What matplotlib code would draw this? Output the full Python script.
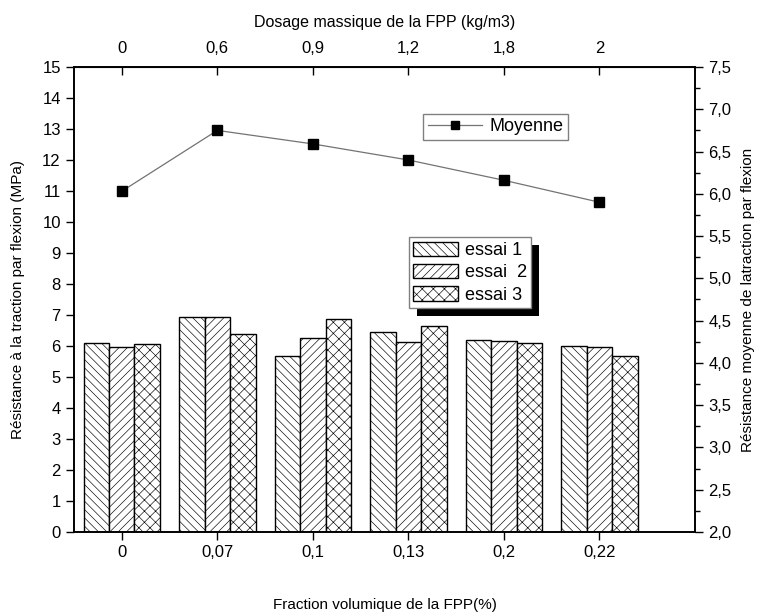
import matplotlib
matplotlib.use("Agg")
import matplotlib.pyplot as plt
from matplotlib.patches import Rectangle
from matplotlib.transforms import IdentityTransform
import numpy as np

plt.rcParams['font.family'] = ['Liberation Sans', 'DejaVu Sans']
plt.rcParams['hatch.linewidth'] = 0.45

# data
fraction_labels = ["0", "0,07", "0,1", "0,13", "0,2", "0,22"]
dosage_labels = ["0", "0,6", "0,9", "1,2", "1,8", "2"]
essai_1 = [6.10, 6.95, 5.67, 6.45, 6.19, 6.01]
essai_2 = [5.96, 6.93, 6.26, 6.14, 6.17, 5.97]
essai_3 = [6.07, 6.40, 6.86, 6.64, 6.09, 5.69]
moyenne = [6.03, 6.75, 6.59, 6.40, 6.16, 5.90]

series = [("essai 1", essai_1, "\\\\\\\\"),
          ("essai  2", essai_2, "////"),
          ("essai 3", essai_3, "xxx")]

fig = plt.figure(figsize=(7.58, 6.14), dpi=100)
ax = fig.add_axes([0.0976, 0.1336, 0.8193, 0.7573])
ax2 = ax.twinx()

x = np.arange(len(fraction_labels))
width = 0.8 / 3
bars = []
for i, (name, vals, hatch) in enumerate(series):
    b = ax.bar(x + (i - 1) * width, vals, width, facecolor="white", edgecolor="black",
               linewidth=1.0, hatch=hatch, label=name, zorder=2)
    bars.append(b)

ax.set_xlim(-0.5, 6.0)
ax.set_ylim(0, 15)
ax.set_yticks(range(0, 16))
ax.set_xticks(x)
ax.set_xticklabels(fraction_labels)
ax.tick_params(axis="both", direction="out", length=6, width=1, labelsize=12)
ax.set_xlabel("Fraction volumique de la FPP(%)", fontsize=11, labelpad=27)
ax.set_ylabel("Résistance à la traction par flexion (MPa)", fontsize=11)
ax.yaxis.set_label_coords(-0.079, 0.5)
for s in ax.spines.values():
    s.set_linewidth(1.2)

top = ax.secondary_xaxis("top")
top.set_xticks(x)
top.set_xticklabels(dosage_labels)
top.tick_params(direction="in", length=6, width=1, labelsize=12, pad=8)
top.set_xlabel("Dosage massique de la FPP (kg/m3)", fontsize=11.5, labelpad=10)

ln, = ax2.plot(x, moyenne, color="0.45", linewidth=0.9, marker="s", markersize=7,
               markerfacecolor="black", markeredgecolor="black", label="Moyenne")
ax2.set_ylim(2.0, 7.5)
ax2.set_yticks(np.arange(2.0, 7.51, 0.5))
ax2.set_yticklabels([f"{v:.1f}".replace(".", ",") for v in np.arange(2.0, 7.51, 0.5)])
ax2.set_yticks(np.arange(2.25, 7.5, 0.5), minor=True)
ax2.tick_params(axis="y", which="major", direction="out", length=6, width=1, labelsize=12)
ax2.tick_params(axis="y", which="minor", direction="out", length=3.5, width=1)
ax2.set_ylabel("Résistance moyenne de latraction par flexion", fontsize=11)
ax2.yaxis.set_label_coords(1.0735, 0.5)
for s in ax2.spines.values():
    s.set_linewidth(1.2)

leg1 = ax2.legend(handles=[ln], loc="upper left", bbox_to_anchor=(0.562, 0.899),
                  frameon=True, fancybox=False, framealpha=1, edgecolor="0.5",
                  fontsize=13, handlelength=3.0, markerscale=0.75, borderpad=0.25,
                  handletextpad=0.45, borderaxespad=0)
ax2.add_artist(leg1)
leg2 = ax2.legend(handles=bars, loc="upper left", bbox_to_anchor=(0.539, 0.634),
                  frameon=True, fancybox=False, framealpha=1, edgecolor="0.5",
                  fontsize=13, handlelength=2.5, handleheight=0.85, labelspacing=0.27,
                  handletextpad=0.35, borderpad=0.25, borderaxespad=0)

# black drop shadow behind the trial legend
fig.canvas.draw()
bb = leg2.get_window_extent()
shadow = Rectangle((bb.x0 + 8, bb.y0 - 8), bb.width, bb.height, transform=IdentityTransform(),
                   facecolor="black", edgecolor="none", zorder=4)
ax2.add_artist(shadow)
leg2.set_zorder(5)

fig.savefig("out.png", dpi=100)
